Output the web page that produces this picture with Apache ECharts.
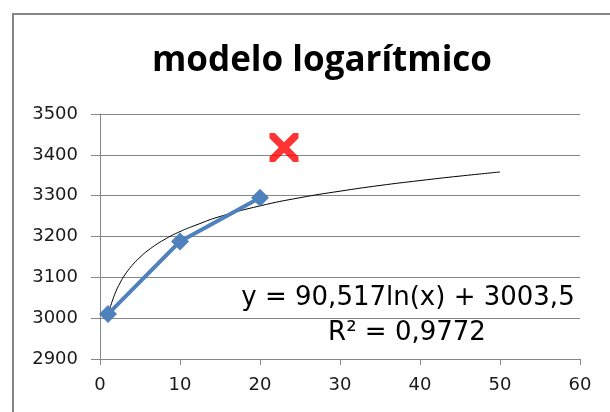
<!DOCTYPE html>
<html>
<head>
<meta charset="utf-8">
<script src="https://cdn.jsdelivr.net/npm/echarts@6/dist/echarts.min.js"></script>
<style>
  html, body { margin: 0; padding: 0; background: #fff; }
  #chart { width: 610px; height: 412px; }
</style>
</head>
<body>
<div id="chart"></div>
<script>
// observed data
const dataX = [1, 10, 20];
const dataY = [3010, 3188, 3295];
// the outlier marked with a red cross
const outlierX = [23];
const outlierY = [3418];
// log trend line
const trendX = [1, 1.25, 1.5, 2, 2.5, 3, 4, 5, 6, 8, 10, 12, 15, 20, 25, 30, 35, 40, 45, 50];
const trendY = [3003, 3024, 3040, 3066, 3086, 3103, 3129, 3149, 3166, 3192, 3212, 3228, 3249, 3275, 3295, 3311, 3325, 3337, 3348, 3358];
const xTicks = [0, 10, 20, 30, 40, 50, 60];
const yTicks = [2900, 3000, 3100, 3200, 3300, 3400, 3500];
const eqLines = ['y = 90,517ln(x) + 3003,5', 'R² = 0,9772'];

const titleFont = 'Open Sans';
const font = 'DejaVu Sans';
const chart = echarts.init(document.getElementById('chart'));
const zip = (xs, ys) => xs.map((x, i) => [x, ys[i]]);

chart.setOption({
  animation: false,
  title: {
    text: 'modelo logarítmico',
    left: 317,
    top: 39,
    textAlign: 'center',
    textStyle: { fontFamily: titleFont, fontSize: 35, fontWeight: 'bold', color: '#000' }
  },
  grid: { left: 100, top: 114, width: 480, height: 245 },
  xAxis: {
    type: 'value',
    min: xTicks[0], max: xTicks[xTicks.length - 1], interval: 10,
    axisLine: { show: true, onZero: false, lineStyle: { color: '#868686' } },
    axisTick: { show: true, length: 6, lineStyle: { color: '#868686' } },
    splitLine: { show: false },
    axisLabel: { fontFamily: font, fontSize: 18, color: '#1a1a1a', margin: 17 }
  },
  yAxis: {
    type: 'value',
    min: yTicks[0], max: yTicks[yTicks.length - 1], interval: 100,
    axisLine: { show: true, lineStyle: { color: '#868686' } },
    axisTick: { show: true, length: 9, lineStyle: { color: '#868686' } },
    splitLine: { show: true, lineStyle: { color: '#868686', width: 1 } },
    axisLabel: { fontFamily: font, fontSize: 18, color: '#1a1a1a', margin: 22, formatter: v => String(v) }
  },
  graphic: [
    { type: 'rect', shape: { x: 13, y: 14, width: 700, height: 500 }, style: { fill: null, stroke: '#868686', lineWidth: 2 }, silent: true },
    { type: 'text', x: 408, y: 298, style: { text: eqLines[0], font: '26px "' + font + '"', fill: '#000', align: 'center', verticalAlign: 'middle' } },
    { type: 'text', x: 407, y: 333, style: { text: eqLines[1], font: '26px "' + font + '"', fill: '#000', align: 'center', verticalAlign: 'middle' } }
  ],
  series: [
    {
      type: 'line',
      data: zip(trendX, trendY),
      smooth: true,
      symbol: 'none',
      lineStyle: { color: '#000', width: 1 },
      z: 3
    },
    {
      type: 'line',
      data: zip(dataX, dataY),
      symbol: 'diamond',
      symbolSize: 18,
      lineStyle: { color: '#4F81BD', width: 4 },
      itemStyle: { color: '#4F81BD' },
      z: 4
    },
    {
      type: 'scatter',
      data: zip(outlierX, outlierY),
      symbol: 'path://M0,0 L3.6,0 L10,6.4 L16.4,0 L20,0 L20,3.6 L13.6,10 L20,16.4 L20,20 L16.4,20 L10,13.6 L3.6,20 L0,20 L0,16.4 L6.4,10 L0,3.6 Z',
      symbolSize: 29,
      itemStyle: { color: '#FF0000' },
      z: 5
    }
  ]
});
</script>
</body>
</html>
